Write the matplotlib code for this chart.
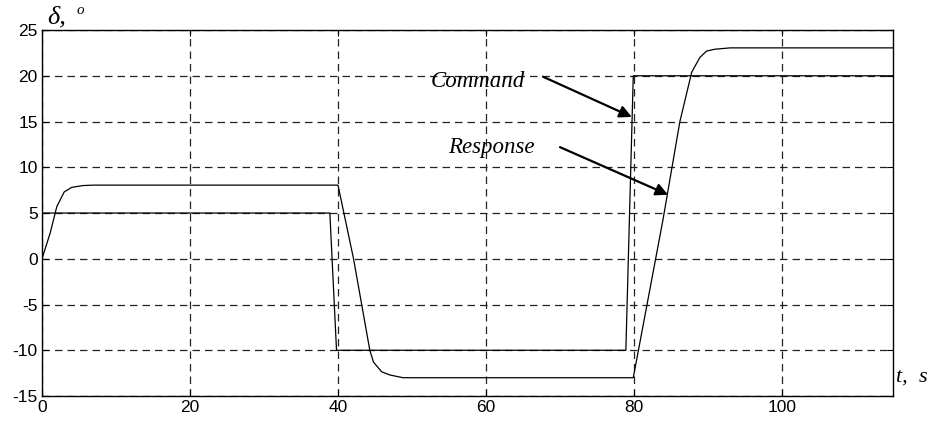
import matplotlib
matplotlib.use("Agg")
import matplotlib.pyplot as plt

plt.rcParams['axes.unicode_minus'] = False

# Command signal
cmd_t = [0, 38.9, 39.8, 78.9, 79.9, 115]
cmd_v = [5, 5, -10, -10, 20, 20]

# Response signal
resp_t = [0, 1.1, 2.0, 3.0, 4.0, 5.5, 7.0, 40.0, 42.1, 43.2, 44.3, 44.8, 45.9, 47.0, 48.8,
          79.9, 83.9, 86.2, 87.8, 88.9, 89.8, 90.9, 93.0, 115]
resp_v = [0, 2.8, 5.7, 7.3, 7.8, 8.0, 8.05, 8.05, 0, -5, -10, -11.3, -12.35, -12.7, -13.0,
          -13.0, 4.2, 15.0, 20.4, 22.0, 22.7, 22.9, 23.05, 23.05]

xticks = [0, 20, 40, 60, 80, 100]
yticks = [-15, -10, -5, 0, 5, 10, 15, 20, 25]

fig = plt.figure(figsize=(9.31, 4.23), dpi=100)
ax = fig.add_axes([0.0451, 0.0638, 0.9141, 0.8652])

ax.plot(cmd_t, cmd_v, color='black', lw=0.9)
ax.plot(resp_t, resp_v, color='black', lw=0.9)

ax.set_xlim(0, 115)
ax.set_ylim(-15, 25)
ax.set_xticks(xticks)
ax.set_yticks(yticks)
ax.grid(True, color='#222222', linestyle=(0, (6, 4)), linewidth=0.9)
ax.tick_params(direction='in', length=4, labelsize=12.5, pad=3,
               top=True, right=True)
for lab in ax.get_xticklabels() + ax.get_yticklabels():
    lab.set_family('Liberation Sans')
for s in ax.spines.values():
    s.set_linewidth(1.0)

serif = 'Liberation Serif'
arrow_kw = dict(arrowstyle='-|>', color='black', lw=1.6,
                mutation_scale=18, shrinkA=0, shrinkB=0)
ax.text(58.9, 19.4, 'Command', ha='center', va='center', fontsize=16.5,
        fontstyle='italic', family=serif)
ax.annotate('', xy=(79.7, 15.5), xytext=(67.7, 19.9), arrowprops=arrow_kw)
ax.text(60.7, 12.2, 'Response', ha='center', va='center', fontsize=16.5,
        fontstyle='italic', family=serif)
ax.annotate('', xy=(84.6, 7.0), xytext=(70.0, 12.2), arrowprops=arrow_kw)

fig.text(47/931, 1 - 17/423, 'δ,', ha='left', va='center', fontsize=19,
         fontstyle='italic', family=serif)
fig.text(77/931, 1 - 11/423, 'o', ha='left', va='center', fontsize=11,
         fontstyle='italic', family=serif)
fig.text(896/931, 1 - 377/423, 't,  s', ha='left', va='center', fontsize=16,
         fontstyle='italic', family=serif)

fig.savefig('out.png', dpi=100)
